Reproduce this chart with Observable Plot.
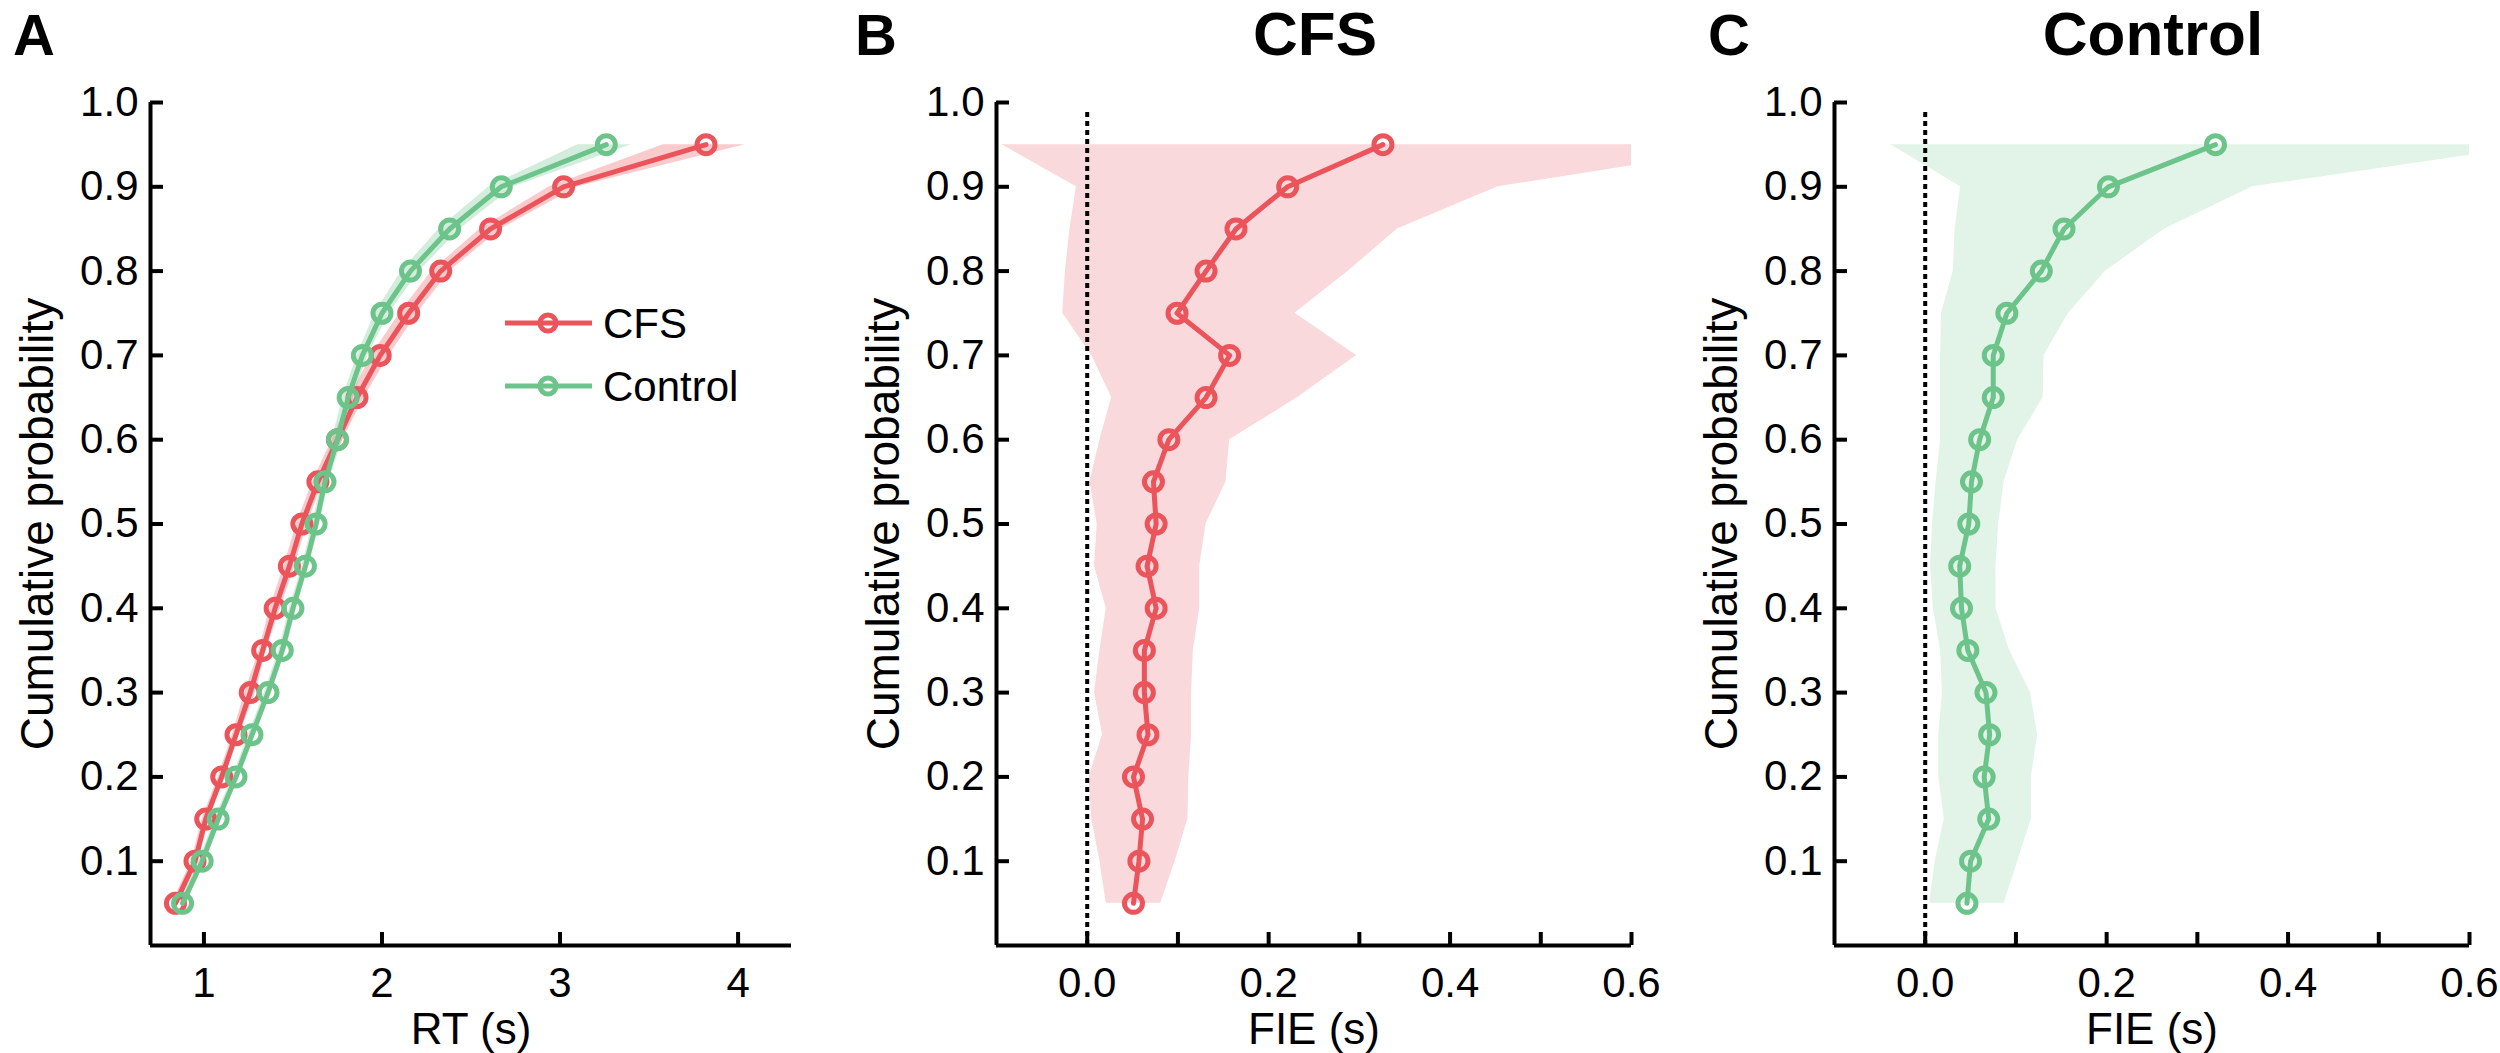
<!DOCTYPE html>
<html>
<head>
<meta charset="UTF-8">
<title>Cumulative RT and FIE, CFS vs Control</title>
<script src="https://cdn.jsdelivr.net/npm/d3@7"></script>
<script src="https://cdn.jsdelivr.net/npm/@observablehq/plot@0.6"></script>
<style>
  body { margin: 0; background: #fff; }
  #fig { position: relative; width: 2500px; height: 1053px; font-family: "Liberation Sans", Arial, sans-serif; }
  #fig > svg { position: absolute; top: 0; }
</style>
</head>
<body>
<div id="fig"></div>
<script>
// quantiles (y of every panel)
const probs = [0.05,0.10,0.15,0.20,0.25,0.30,0.35,0.40,0.45,0.50,0.55,0.60,0.65,0.70,0.75,0.80,0.85,0.90,0.95];

// panel A: RT quantiles (s) with band
const rtCfs   = [0.84,0.95,1.01,1.10,1.18,1.26,1.33,1.40,1.48,1.55,1.64,1.75,1.86,1.99,2.15,2.33,2.61,3.02,3.82];
const rtCfsLo = [0.82,0.93,0.99,1.08,1.16,1.23,1.31,1.37,1.45,1.52,1.61,1.72,1.82,1.94,2.10,2.28,2.55,2.94,3.58];
const rtCfsHi = [0.86,0.97,1.03,1.12,1.20,1.29,1.35,1.43,1.51,1.58,1.67,1.78,1.90,2.04,2.20,2.38,2.67,3.10,4.04];
const rtCtl   = [0.88,0.99,1.08,1.18,1.27,1.36,1.44,1.50,1.57,1.63,1.68,1.75,1.81,1.89,2.00,2.16,2.38,2.67,3.26];
const rtCtlLo = [0.86,0.97,1.06,1.16,1.25,1.34,1.42,1.48,1.55,1.61,1.66,1.72,1.78,1.86,1.96,2.11,2.32,2.60,3.10];
const rtCtlHi = [0.90,1.01,1.10,1.20,1.29,1.38,1.46,1.52,1.59,1.65,1.70,1.78,1.84,1.92,2.04,2.21,2.44,2.74,3.40];

// panel B: FIE for CFS (s)
const fieCfs   = [0.051,0.057,0.061,0.051,0.067,0.063,0.063,0.076,0.066,0.076,0.073,0.090,0.131,0.157,0.099,0.131,0.164,0.221,0.326];
const fieCfsLo = [0.021,0.014,0.005,0.002,0.017,0.008,0.014,0.021,0.008,0.011,0.003,0.014,0.027,0.005,-0.027,-0.024,-0.019,-0.012,-0.094];
const fieCfsHi = [0.081,0.097,0.111,0.112,0.115,0.115,0.117,0.124,0.124,0.131,0.153,0.157,0.232,0.297,0.229,0.288,0.342,0.453,0.747];

// panel C: FIE for Control (s)
const fieCtl   = [0.046,0.050,0.070,0.065,0.071,0.067,0.047,0.040,0.038,0.048,0.051,0.060,0.075,0.075,0.090,0.128,0.153,0.202,0.320];
const fieCtlLo = [0.005,0.011,0.021,0.015,0.015,0.019,0.017,0.009,0.006,0.008,0.012,0.017,0.017,0.017,0.018,0.031,0.033,0.039,-0.038];
const fieCtlHi = [0.087,0.102,0.117,0.117,0.124,0.116,0.093,0.078,0.078,0.081,0.087,0.102,0.130,0.131,0.158,0.199,0.264,0.361,0.680];

const yTicks = [0.1,0.2,0.3,0.4,0.5,0.6,0.7,0.8,0.9,1.0];
const rtTicks = [1,2,3,4];
const fieTicks = [0,0.1,0.2,0.3,0.4,0.5,0.6];
const fieLabels = [0,0.2,0.4,0.6];

const RED = "#ea545a", GREEN = "#6cc48a";
const RED_BAND = "#f9d9dc", GREEN_BAND = "#e2f3e7";

const rows = (x, lo, hi) => probs.map((p, i) => ({p, x: x[i], lo: lo[i], hi: hi[i]}));

const H = 1053, MT = 102, MB = 108;
const fig = document.querySelector("#fig");

function series(data, color) {
  return [
    Plot.line(data, {x: "x", y: "p", stroke: color, strokeWidth: 5}),
    Plot.dot(data, {x: "x", y: "p", r: 9, stroke: color, strokeWidth: 5, fill: "none"})
  ];
}

function panel(o) {
  const plotW = o.width - o.marginLeft - o.marginRight;
  const plotH = H - MT - MB;
  const svg = Plot.plot({
    width: o.width,
    height: H,
    marginLeft: o.marginLeft,
    marginRight: o.marginRight,
    marginTop: MT,
    marginBottom: MB,
    style: {fontFamily: '"Liberation Sans", Arial, sans-serif', fontSize: "42px", color: "black", background: "transparent"},
    x: {domain: o.xDomain},
    y: {domain: [0, 1]},
    marks: [
      ...o.marks,
      Plot.ruleX([o.xDomain[0]], {y1: 0, y2: 1, strokeWidth: 4}),
      Plot.ruleY([0], {x1: o.xDomain[0], x2: o.xDomain[1], strokeWidth: 4}),
      Plot.tickY(yTicks, {y: d => d, insetRight: plotW - 13, strokeWidth: 4}),
      Plot.tickX(o.xTicks, {x: d => d, insetTop: plotH - 13, strokeWidth: 4}),
      Plot.axisY({ticks: yTicks, tickSize: 0, tickPadding: 12, tickFormat: ".1f", label: null}),
      Plot.axisX({ticks: o.xLabels, tickSize: 0, tickPadding: 22, tickFormat: o.xFormat, label: null}),
      Plot.text([o.xLabel], {frameAnchor: "bottom", dy: 84, textAnchor: "middle", lineAnchor: "middle", fontSize: 44}),
      Plot.text(["Cumulative probability"], {frameAnchor: "left", rotate: -90, dx: -112, textAnchor: "middle", lineAnchor: "middle", fontSize: 46})
    ]
  });
  svg.style.left = o.left + "px";
  fig.append(svg);
  return svg;
}

const aCfs = rows(rtCfs, rtCfsLo, rtCfsHi);
const aCtl = rows(rtCtl, rtCtlLo, rtCtlHi);
const bCfs = rows(fieCfs, fieCfsLo, fieCfsHi);
const cCtl = rows(fieCtl, fieCtlLo, fieCtlHi);

const svgA = panel({
  left: 0, width: 830, marginLeft: 150, marginRight: 39,
  xDomain: [0.7, 4.3], xTicks: rtTicks, xLabels: rtTicks, xFormat: "d", xLabel: "RT (s)",
  marks: [
    Plot.areaX(aCfs, {y: "p", x1: "lo", x2: "hi", fill: RED, fillOpacity: 0.3}),
    Plot.areaX(aCtl, {y: "p", x1: "lo", x2: "hi", fill: GREEN, fillOpacity: 0.3}),
    ...series(aCfs, RED),
    ...series(aCtl, GREEN)
  ]
});

panel({
  left: 830, width: 838, marginLeft: 166, marginRight: 37,
  xDomain: [-0.1, 0.6], xTicks: fieTicks, xLabels: fieLabels, xFormat: ".1f", xLabel: "FIE (s)",
  marks: [
    Plot.areaX(bCfs, {y: "p", x1: "lo", x2: "hi", fill: RED_BAND, clip: true}),
    Plot.ruleX([0], {y1: 0, y2: 0.99, strokeWidth: 4, strokeDasharray: "5,4"}),
    ...series(bCfs, RED)
  ]
});

panel({
  left: 1668, width: 832, marginLeft: 166, marginRight: 31,
  xDomain: [-0.1, 0.6], xTicks: fieTicks, xLabels: fieLabels, xFormat: ".1f", xLabel: "FIE (s)",
  marks: [
    Plot.areaX(cCtl, {y: "p", x1: "lo", x2: "hi", fill: GREEN_BAND, clip: true}),
    Plot.ruleX([0], {y1: 0, y2: 0.99, strokeWidth: 4, strokeDasharray: "5,4"}),
    ...series(cCtl, GREEN)
  ]
});

// legend inside panel A
const legend = d3.select(svgA).append("g").attr("font-size", 42).attr("text-anchor", "start");
[["CFS", RED, 323], ["Control", GREEN, 386]].forEach(([name, color, y]) => {
  const g = legend.append("g").attr("transform", `translate(0,${y})`);
  g.append("line").attr("x1", 505).attr("x2", 592).attr("stroke", color).attr("stroke-width", 5);
  g.append("circle").attr("cx", 548).attr("r", 8).attr("fill", "none").attr("stroke", color).attr("stroke-width", 5);
  g.append("text").attr("x", 603).attr("dy", "0.35em").attr("fill", "black").text(name);
});

// panel letters and titles
const over = d3.select(fig).append("svg")
  .attr("width", 2500).attr("height", 1053).style("left", "0px").style("pointer-events", "none")
  .attr("font-family", '"Liberation Sans", Arial, sans-serif').attr("font-weight", "bold");
[["A", 13, 58, "start"], ["B", 855, 58, "start"], ["C", 1708, 58, "start"],
 ["CFS", 1315, 62, "middle"], ["Control", 2153, 62, "middle"]].forEach(([t, x, fs, anchor]) => {
  over.append("text").attr("x", x).attr("y", 55).attr("font-size", fs).attr("text-anchor", anchor).text(t);
});
</script>
</body>
</html>
